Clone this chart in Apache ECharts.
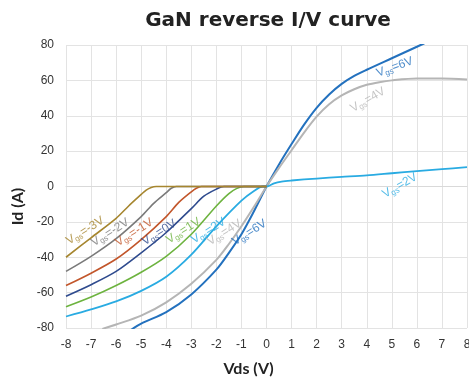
<!DOCTYPE html>
<html>
<head>
<meta charset="utf-8">
<script src="https://cdn.jsdelivr.net/npm/echarts@6/dist/echarts.min.js"></script>
<style>
    html, body { margin: 0; padding: 0; background: #fff; }
    #chart { width: 469px; height: 378px; }
</style>
</head>
<body>
<div id="chart"></div>
<script>
    // tick labels
    var xTicks = [-8, -7, -6, -5, -4, -3, -2, -1, 0, 1, 2, 3, 4, 5, 6, 7, 8];
    var yTicks = [-80, -60, -40, -20, 0, 20, 40, 60, 80];

    // curves, [Vds, Id]
    var vgsM3 = [[-8, -40], [-7, -29], [-6, -18], [-5.5, -11], [-5, -4.5], [-4.8, -2], [-4.6, -0.5], [-4.4, 0], [-3, 0], [-1, 0], [0, 0]];
    var vgsM2 = [[-8, -48], [-7, -39.5], [-6, -29.5], [-5, -17], [-4.5, -9.5], [-4, -3.5], [-3.8, -1], [-3.6, 0], [-2, 0], [0, 0]];
    var vgsM1 = [[-8, -56], [-7, -49], [-6, -41], [-5, -30], [-4, -17], [-3.5, -9], [-3, -3], [-2.8, -1], [-2.6, 0], [-1, 0], [0, 0]];
    var vgs0 = [[-8, -62], [-7, -55.5], [-6, -48], [-5, -37.5], [-4, -26], [-3, -12.5], [-2.5, -5.5], [-2, -1.5], [-1.7, 0], [-1, 0], [0, 0]];
    var vgs1 = [[-8, -68], [-7, -62.5], [-6, -56], [-5, -48.5], [-4, -39.5], [-3, -27], [-2, -11], [-1.5, -4], [-1.2, -1.2], [-0.9, 0], [0, 0]];
    var vgs2 = [[-8, -73.5], [-7, -69.5], [-6, -65], [-5, -59], [-4, -51], [-3, -38.5], [-2, -22.5], [-1, -8], [-0.5, -2.5], [-0.15, 0], [0, 0],
        [0.3, 1.8], [0.6, 2.8], [1, 3.4], [2, 4.5], [3, 5.4], [4, 6.3], [5, 7.5], [6, 8.7], [7, 9.8], [8, 10.9]];
    var vgs4 = [[-6.55, -80.5], [-6, -78], [-5, -73], [-4, -65.5], [-3, -55], [-2, -41.5], [-1.5, -32.5], [-1, -22.5], [-0.5, -11.5], [0, 0],
        [0.5, 10.5], [1, 20.5], [1.5, 30.5], [2, 39.5], [2.5, 46.5], [3, 51.5], [3.5, 55], [4, 57.5], [4.5, 59], [5, 60], [6, 61], [7, 61], [8, 60.5]];
    var vgs6 = [[-5.4, -81], [-5, -77.5], [-4, -71], [-3, -61], [-2, -47], [-1.5, -37.5], [-1, -27], [-0.5, -14], [0, 0],
        [0.5, 12.5], [1, 24], [1.5, 35], [2, 44.5], [2.5, 52], [3, 58], [3.5, 62.5], [4, 66], [5, 72.5], [6, 79], [6.3, 81]];

    // label anchors [Vds, Id], subscript name, angle
    var labels = [
        {name: '-3V', at: [-7.24, -25], rot: 32, color: '#A6862F'},
        {name: '-2V', at: [-6.24, -26], rot: 32, color: '#7A7A7A'},
        {name: '-1V', at: [-5.28, -26], rot: 32, color: '#C2562B'},
        {name: '0V', at: [-4.28, -26], rot: 32, color: '#2F4B8E'},
        {name: '1V', at: [-3.32, -25], rot: 32, color: '#6DB33F'},
        {name: '2V', at: [-2.32, -25], rot: 32, color: '#29ABE2'},
        {name: '4V', at: [-1.68, -26], rot: 32, color: '#B5B5B5'},
        {name: '6V', at: [-0.68, -26], rot: 32, color: '#2371BE'},
        {name: '6V', at: [5.12, 67.5], rot: 20, color: '#2371BE'},
        {name: '4V', at: [4.04, 49], rot: 30, color: '#B5B5B5'},
        {name: '2V', at: [5.32, 0.5], rot: 30, color: '#29ABE2'}
    ];

    var chart = echarts.init(document.getElementById('chart'));

    function curve(name, data, color, width) {
        return {
            name: name,
            type: 'line',
            data: data,
            smooth: 0.3,
            showSymbol: false,
            lineStyle: {color: color, width: width || 1.6},
            itemStyle: {color: color}
        };
    }

    var series = [
        curve('Vgs=6V', vgs6, '#2371BE', 2),
        curve('Vgs=4V', vgs4, '#B5B5B5', 2),
        curve('Vgs=2V', vgs2, '#29ABE2', 1.8),
        curve('Vgs=1V', vgs1, '#6DB33F'),
        curve('Vgs=0V', vgs0, '#2F4B8E'),
        curve('Vgs=-1V', vgsM1, '#C2562B'),
        curve('Vgs=-2V', vgsM2, '#7A7A7A'),
        curve('Vgs=-3V', vgsM3, '#A6862F')
    ];

    // rotated Vgs labels
    series.push({
        type: 'scatter',
        symbolSize: 0,
        silent: true,
        z: 10,
        data: labels.map(function (l) {
            return {
                value: l.at,
                label: {
                    show: true,
                    position: 'inside',
                    rotate: l.rot,
                    formatter: '{v|V}{s|gs}{v|=' + l.name + '}',
                    rich: {
                        v: {fontSize: 12, color: l.color, fontFamily: 'Liberation Sans'},
                        s: {fontSize: 8, color: l.color, fontFamily: 'Liberation Sans', verticalAlign: 'bottom', padding: [6, 0, 0, 0]}
                    }
                }
            };
        })
    });

    var option = {
        animation: false,
        title: {
            text: 'GaN reverse I/V curve',
            left: 263,
            textAlign: 'center',
            top: 6,
            textStyle: {fontSize: 20, fontWeight: 'bold', color: '#222', fontFamily: 'DejaVu Sans'}
        },
        grid: {left: 66, right: 2, top: 45, bottom: 50, outerBoundsMode: 'none'},
        xAxis: {
            type: 'value',
            min: -8,
            max: 8,
            interval: 1,
            name: 'Vds (V)',
            nameLocation: 'middle',
            nameGap: 33,
            nameTextStyle: {fontSize: 16, fontWeight: 'bold', color: '#222', fontFamily: 'Lato', padding: [0, 36, 0, 0]},
            axisLine: {show: true, lineStyle: {color: '#d9d9d9'}},
            axisTick: {show: false},
            axisLabel: {fontSize: 12, color: '#333', fontFamily: 'Liberation Sans', margin: 11,
                formatter: function (v) { return xTicks.indexOf(v) >= 0 ? String(v) : ''; }},
            splitLine: {show: true, lineStyle: {color: '#e3e3e3'}}
        },
        yAxis: {
            type: 'value',
            min: -80,
            max: 80,
            interval: 20,
            name: 'Id (A)',
            nameLocation: 'middle',
            nameGap: 40,
            nameTextStyle: {fontSize: 16, fontWeight: 'bold', color: '#222', fontFamily: 'Lato', padding: [0, 40, 0, 0]},
            axisLine: {show: false},
            axisTick: {show: false},
            axisLabel: {fontSize: 12, color: '#333', fontFamily: 'Liberation Sans', margin: 12,
                formatter: function (v) { return yTicks.indexOf(v) >= 0 ? String(v) : ''; }},
            splitLine: {show: true, lineStyle: {color: '#e3e3e3'}}
        },
        series: series
    };

    chart.setOption(option);
    window.addEventListener('resize', chart.resize);
</script>
</body>
</html>
